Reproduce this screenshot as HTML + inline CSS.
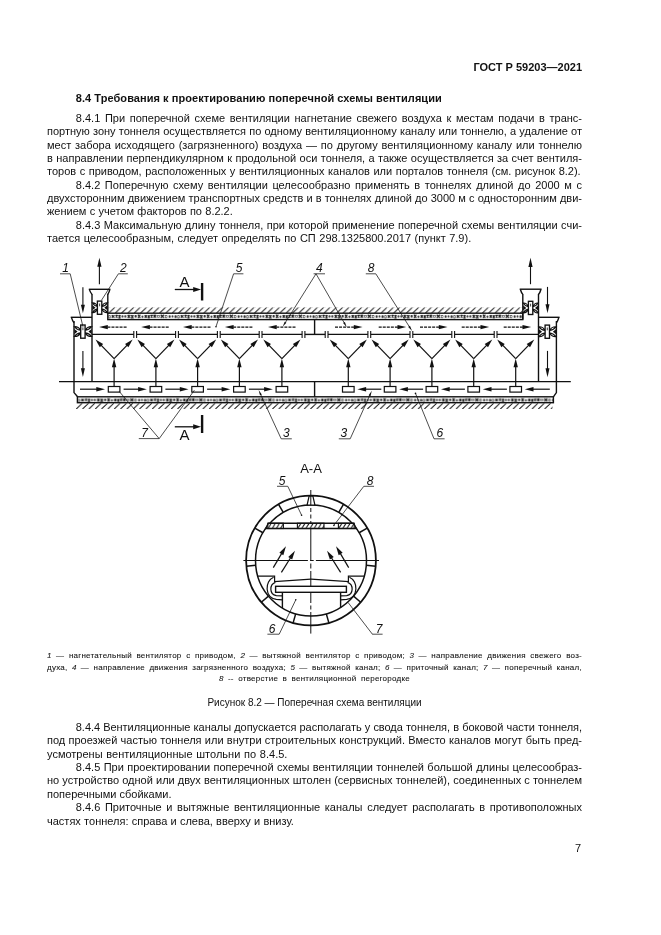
<!DOCTYPE html>
<html lang="ru"><head><meta charset="utf-8"><title>ГОСТ Р 59203—2021</title>
<style>
html,body{margin:0;padding:0;background:#fff;}
body{width:661px;height:935px;position:relative;overflow:hidden;font-family:"Liberation Sans",sans-serif;color:#111;}
.l{position:absolute;left:47px;width:535px;font-size:11px;line-height:13px;height:13px;white-space:nowrap;overflow:visible;}
.j{text-align:justify;text-align-last:justify;}
.i{left:75.8px;width:506.2px;}
.b{font-weight:bold;}
.lg{position:absolute;left:47px;width:535px;font-size:8px;line-height:10px;height:10px;letter-spacing:0.25px;color:#111;-webkit-text-stroke:0.08px #111;white-space:nowrap;}
.lg i{letter-spacing:0;}
svg{position:absolute;left:0;top:0;}
svg text{font-family:"Liberation Sans",sans-serif;fill:#111;}
#pg{position:absolute;left:0;top:0;width:661px;height:935px;will-change:transform;}
</style></head><body><div id="pg">
<div class="l b" style="top:60.60px;text-align:right;">ГОСТ Р 59203—2021</div>
<div class="l b i" style="top:91.90px;letter-spacing:0.055px;">8.4 Требования к проектированию поперечной схемы вентиляции</div>
<div class="l i j" style="top:111.90px;">8.4.1 При поперечной схеме вентиляции нагнетание свежего воздуха к местам подачи в транс-</div>
<div class="l j" style="top:125.26px;">портную зону тоннеля осуществляется по одному вентиляционному каналу или тоннелю, а удаление от</div>
<div class="l j" style="top:138.62px;">мест забора исходящего (загрязненного) воздуха — по другому вентиляционному каналу или тоннелю</div>
<div class="l j" style="top:151.98px;">в направлении перпендикулярном к продольной оси тоннеля, а также осуществляется за счет вентиля-</div>
<div class="l" style="top:165.34px;word-spacing:0.48px;">торов с приводом, расположенных у вентиляционных каналов или порталов тоннеля (см. рисунок 8.2).</div>
<div class="l i j" style="top:178.70px;">8.4.2 Поперечную схему вентиляции целесообразно применять в тоннелях длиной до 2000 м с</div>
<div class="l j" style="top:192.06px;">двухсторонним движением транспортных средств и в тоннелях длиной до 3000 м с односторонним дви-</div>
<div class="l" style="top:205.42px;word-spacing:0.25px;">жением с учетом факторов по 8.2.2.</div>
<div class="l i j" style="top:218.78px;">8.4.3 Максимальную длину тоннеля, при которой применение поперечной схемы вентиляции счи-</div>
<div class="l" style="top:232.14px;word-spacing:0.45px;">тается целесообразным, следует определять по СП 298.1325800.2017 (пункт 7.9).</div>
<div class="l i j" style="top:720.60px;letter-spacing:-0.045px;">8.4.4 Вентиляционные каналы допускается располагать у свода тоннеля, в боковой части тоннеля,</div>
<div class="l j" style="top:734.07px;">под проезжей частью тоннеля или внутри строительных конструкций. Вместо каналов могут быть пред-</div>
<div class="l" style="top:747.54px;word-spacing:0.7px;">усмотрены вентиляционные штольни по 8.4.5.</div>
<div class="l i j" style="top:761.01px;">8.4.5 При проектировании поперечной схемы вентиляции тоннелей большой длины целесообраз-</div>
<div class="l j" style="top:774.48px;">но устройство одной или двух вентиляционных штолен (сервисных тоннелей), соединенных с тоннелем</div>
<div class="l" style="top:787.95px;">поперечными сбойками.</div>
<div class="l i j" style="top:801.42px;">8.4.6 Приточные и вытяжные вентиляционные каналы следует располагать в противоположных</div>
<div class="l" style="top:814.89px;word-spacing:0.2px;">частях тоннеля: справа и слева, вверху и внизу.</div>
<div class="l" style="top:695.50px;font-size:10px;text-align:center;left:47px;width:535px;">Рисунок 8.2 — Поперечная схема вентиляции</div>
<div class="l" style="top:842.20px;text-align:right;width:534px;">7</div>
<div class="lg j" style="top:651.30px;text-align:justify;text-align-last:justify;"><i>1</i> — нагнетательный вентилятор с приводом, <i>2</i> — вытяжной вентилятор с приводом; <i>3</i> — направление движения свежего воз-</div>
<div class="lg j" style="top:662.60px;text-align:justify;text-align-last:justify;">духа, <i>4</i> — направление движения загрязненного воздуха; <i>5</i> — вытяжной канал; <i>6</i> — приточный канал; <i>7</i> — поперечный канал,</div>
<div class="lg" style="top:673.90px;text-align:center;word-spacing:2px;"><i>8</i> -- отверстие в вентиляционной перегородке</div>
<svg width="661" height="935" viewBox="0 0 661 935">
<defs>
<pattern id="hat" width="6.33" height="6" patternUnits="userSpaceOnUse"><path d="M0.3,6 L6.1,0.4 M-6.03,6 L-0.23,0.4 M6.63,6 L12.43,0.4" stroke="#1a1a1a" stroke-width="1.0"/></pattern>
<pattern id="con" width="69.0" height="6.4" patternUnits="userSpaceOnUse"><rect width="69.0" height="6.4" fill="#fff"/><g fill="#2a2a2a">
<rect x="0.40" y="2.07" width="2.31" height="2.86" rx="0.7"/>
<circle cx="1.56" cy="3.50" r="0.75" fill="#fff"/>
<path d="M3.92,1.97 L6.48,4.45 M3.92,4.45 L6.48,1.97" stroke="#1a1a1a" stroke-width="1.25" fill="none"/>
<path d="M7.85,1.61 L9.52,4.22 M7.85,4.22 L9.52,1.61" stroke="#1a1a1a" stroke-width="1.25" fill="none"/>
<path d="M10.84,1.88 L12.41,5.17 M10.84,5.17 L12.41,1.88" stroke="#1a1a1a" stroke-width="1.25" fill="none"/>
<rect x="13.68" y="2.06" width="1.78" height="2.32" rx="0.7"/>
<rect x="16.48" y="2.01" width="1.94" height="2.33" rx="0.7"/>
<path d="M19.82,1.73 L22.26,4.67 M19.82,4.67 L22.26,1.73" stroke="#1a1a1a" stroke-width="1.25" fill="none"/>
<path d="M23.43,1.90 L25.43,5.20 M23.43,5.20 L25.43,1.90" stroke="#1a1a1a" stroke-width="1.25" fill="none"/>
<rect x="26.76" y="1.79" width="2.07" height="2.53" rx="0.7"/>
<path d="M30.18,1.55 L32.40,4.69 M30.18,4.69 L32.40,1.55" stroke="#1a1a1a" stroke-width="1.25" fill="none"/>
<rect x="33.81" y="2.23" width="1.50" height="2.51" rx="0.7"/>
<path d="M36.80,2.10 L39.02,4.48 M36.80,4.48 L39.02,2.10" stroke="#1a1a1a" stroke-width="1.25" fill="none"/>
<path d="M40.08,2.21 L41.73,4.84 M40.08,4.84 L41.73,2.21" stroke="#1a1a1a" stroke-width="1.25" fill="none"/>
<path d="M42.71,1.69 L44.65,4.09 M42.71,4.09 L44.65,1.69" stroke="#1a1a1a" stroke-width="1.25" fill="none"/>
<path d="M45.66,1.61 L48.16,4.36 M45.66,4.36 L48.16,1.61" stroke="#1a1a1a" stroke-width="1.25" fill="none"/>
<rect x="49.14" y="1.94" width="2.66" height="2.42" rx="0.7"/>
<circle cx="50.47" cy="3.14" r="0.75" fill="#fff"/>
<path d="M52.86,1.51 L56.11,4.61 M52.86,4.61 L56.11,1.51" stroke="#1a1a1a" stroke-width="1.25" fill="none"/>
<rect x="57.14" y="1.72" width="2.21" height="3.15" rx="0.7"/>
<circle cx="58.24" cy="3.30" r="0.75" fill="#fff"/>
<rect x="60.84" y="2.11" width="1.88" height="2.56" rx="0.7"/>
<rect x="63.80" y="2.06" width="1.63" height="2.39" rx="0.7"/>
<rect x="66.69" y="2.14" width="2.01" height="2.75" rx="0.7"/>
</g></pattern>
</defs>
<g transform="translate(108.6,307.2)"><rect x="0" y="0" width="413.49999999999994" height="6" fill="url(#hat)"/></g>
<g transform="translate(107.8,313.2)"><rect x="0" y="0" width="414.99999999999994" height="6.400000000000034" fill="url(#con)" stroke="#111" stroke-width="1.4"/></g>
<g transform="translate(77.4,396.8)"><rect x="0" y="0" width="476.0" height="5.899999999999977" fill="url(#con)" stroke="#111" stroke-width="1.4"/></g>
<g transform="translate(76.0,403.0)"><rect x="0" y="0" width="476.5" height="6" fill="url(#hat)"/></g>
<line x1="59.00" y1="381.60" x2="570.80" y2="381.60" stroke="#111" stroke-width="1.3" />
<path d="M74.0,321 L74.0,392.6 L77.6,396.8" stroke="#111" stroke-width="1.4" fill="none" />
<path d="M92.0,294 L92.0,381.6" stroke="#111" stroke-width="1.4" fill="none" />
<path d="M107.8,294 L107.8,313.2" stroke="#111" stroke-width="1.4" fill="none" />
<path d="M88.8,289.3 L110.4,289.3" stroke="#111" stroke-width="1.4" fill="none" />
<path d="M89.4,289.6 Q90.3,292.4 92.0,294.4 M109.8,289.6 Q109.2,292.4 107.8,294.4" stroke="#111" stroke-width="1.4" fill="none" />
<path d="M70.7,317.3 L92.0,317.3" stroke="#111" stroke-width="1.4" fill="none" />
<path d="M71.5,317.6 Q72.4,320.6 74.0,322.8" stroke="#111" stroke-width="1.4" fill="none" />
<path d="M556.4,321 L556.4,392.6 L553.4,396.8" stroke="#111" stroke-width="1.4" fill="none" />
<path d="M538.5,294 L538.5,381.6" stroke="#111" stroke-width="1.4" fill="none" />
<path d="M522.8,294 L522.8,319.6" stroke="#111" stroke-width="1.4" fill="none" />
<path d="M519.7,289.2 L541.6,289.2" stroke="#111" stroke-width="1.4" fill="none" />
<path d="M520.4,289.5 Q521.2,292.4 522.8,294.4 M540.9,289.5 Q540.2,292.4 538.5,294.4" stroke="#111" stroke-width="1.4" fill="none" />
<path d="M538.5,317.3 L559.6,317.3" stroke="#111" stroke-width="1.4" fill="none" />
<path d="M558.8,317.6 Q558.0,320.6 556.4,322.8" stroke="#111" stroke-width="1.4" fill="none" />
<line x1="314.60" y1="319.60" x2="314.60" y2="334.40" stroke="#111" stroke-width="1.4" />
<line x1="314.60" y1="381.60" x2="314.60" y2="396.80" stroke="#111" stroke-width="1.4" />
<line x1="92.00" y1="334.40" x2="133.80" y2="334.40" stroke="#111" stroke-width="1.4" />
<line x1="136.60" y1="334.40" x2="175.60" y2="334.40" stroke="#111" stroke-width="1.4" />
<line x1="178.40" y1="334.40" x2="217.40" y2="334.40" stroke="#111" stroke-width="1.4" />
<line x1="220.20" y1="334.40" x2="259.20" y2="334.40" stroke="#111" stroke-width="1.4" />
<line x1="262.00" y1="334.40" x2="302.10" y2="334.40" stroke="#111" stroke-width="1.4" />
<line x1="304.90" y1="334.40" x2="325.20" y2="334.40" stroke="#111" stroke-width="1.4" />
<line x1="328.00" y1="334.40" x2="367.90" y2="334.40" stroke="#111" stroke-width="1.4" />
<line x1="370.70" y1="334.40" x2="410.00" y2="334.40" stroke="#111" stroke-width="1.4" />
<line x1="412.80" y1="334.40" x2="451.80" y2="334.40" stroke="#111" stroke-width="1.4" />
<line x1="454.60" y1="334.40" x2="494.20" y2="334.40" stroke="#111" stroke-width="1.4" />
<line x1="497.00" y1="334.40" x2="538.50" y2="334.40" stroke="#111" stroke-width="1.4" />
<line x1="133.80" y1="331.00" x2="133.80" y2="338.10" stroke="#111" stroke-width="1.1" />
<line x1="136.60" y1="331.00" x2="136.60" y2="338.10" stroke="#111" stroke-width="1.1" />
<line x1="175.60" y1="331.00" x2="175.60" y2="338.10" stroke="#111" stroke-width="1.1" />
<line x1="178.40" y1="331.00" x2="178.40" y2="338.10" stroke="#111" stroke-width="1.1" />
<line x1="217.40" y1="331.00" x2="217.40" y2="338.10" stroke="#111" stroke-width="1.1" />
<line x1="220.20" y1="331.00" x2="220.20" y2="338.10" stroke="#111" stroke-width="1.1" />
<line x1="259.20" y1="331.00" x2="259.20" y2="338.10" stroke="#111" stroke-width="1.1" />
<line x1="262.00" y1="331.00" x2="262.00" y2="338.10" stroke="#111" stroke-width="1.1" />
<line x1="302.10" y1="331.00" x2="302.10" y2="338.10" stroke="#111" stroke-width="1.1" />
<line x1="304.90" y1="331.00" x2="304.90" y2="338.10" stroke="#111" stroke-width="1.1" />
<line x1="325.20" y1="331.00" x2="325.20" y2="338.10" stroke="#111" stroke-width="1.1" />
<line x1="328.00" y1="331.00" x2="328.00" y2="338.10" stroke="#111" stroke-width="1.1" />
<line x1="367.90" y1="331.00" x2="367.90" y2="338.10" stroke="#111" stroke-width="1.1" />
<line x1="370.70" y1="331.00" x2="370.70" y2="338.10" stroke="#111" stroke-width="1.1" />
<line x1="410.00" y1="331.00" x2="410.00" y2="338.10" stroke="#111" stroke-width="1.1" />
<line x1="412.80" y1="331.00" x2="412.80" y2="338.10" stroke="#111" stroke-width="1.1" />
<line x1="451.80" y1="331.00" x2="451.80" y2="338.10" stroke="#111" stroke-width="1.1" />
<line x1="454.60" y1="331.00" x2="454.60" y2="338.10" stroke="#111" stroke-width="1.1" />
<line x1="494.20" y1="331.00" x2="494.20" y2="338.10" stroke="#111" stroke-width="1.1" />
<line x1="497.00" y1="331.00" x2="497.00" y2="338.10" stroke="#111" stroke-width="1.1" />
<g stroke="#111" stroke-width="1.15" fill="#fff">
<path d="M92.30,302.80 Q95.55,302.40 97.60,306.40 Q94.35,306.20 92.30,302.80 Z"/>
<path d="M92.30,312.60 Q95.55,313.00 97.60,309.00 Q94.35,309.20 92.30,312.60 Z"/>
<polygon points="92.30,305.10 95.50,307.70 92.30,310.30" fill="#111" stroke="none"/>
<path d="M107.50,302.80 Q103.95,302.40 101.60,306.40 Q105.15,306.20 107.50,302.80 Z"/>
<path d="M107.50,312.60 Q103.95,313.00 101.60,309.00 Q105.15,309.20 107.50,312.60 Z"/>
<polygon points="107.50,305.10 104.30,307.70 107.50,310.30" fill="#111" stroke="none"/>
<rect x="97.40" y="301.10" width="4.4" height="13.2" fill="#fff" stroke-width="1.35"/>
<line x1="99.6" y1="303.50" x2="99.6" y2="306.30" stroke-width="0.8"/>
</g>
<g stroke="#111" stroke-width="1.15" fill="#fff">
<path d="M74.30,326.70 Q78.20,326.30 80.90,330.30 Q77.00,330.10 74.30,326.70 Z"/>
<path d="M74.30,336.50 Q78.20,336.90 80.90,332.90 Q77.00,333.10 74.30,336.50 Z"/>
<polygon points="74.30,329.00 77.50,331.60 74.30,334.20" fill="#111" stroke="none"/>
<path d="M91.70,326.70 Q87.70,326.30 84.90,330.30 Q88.90,330.10 91.70,326.70 Z"/>
<path d="M91.70,336.50 Q87.70,336.90 84.90,332.90 Q88.90,333.10 91.70,336.50 Z"/>
<polygon points="91.70,329.00 88.50,331.60 91.70,334.20" fill="#111" stroke="none"/>
<rect x="80.70" y="325.00" width="4.4" height="13.2" fill="#fff" stroke-width="1.35"/>
<line x1="82.9" y1="327.40" x2="82.9" y2="330.20" stroke-width="0.8"/>
</g>
<g stroke="#111" stroke-width="1.15" fill="#fff">
<path d="M523.10,303.00 Q526.45,302.60 528.60,306.60 Q525.25,306.40 523.10,303.00 Z"/>
<path d="M523.10,312.80 Q526.45,313.20 528.60,309.20 Q525.25,309.40 523.10,312.80 Z"/>
<polygon points="523.10,305.30 526.30,307.90 523.10,310.50" fill="#111" stroke="none"/>
<path d="M538.20,303.00 Q534.80,302.60 532.60,306.60 Q536.00,306.40 538.20,303.00 Z"/>
<path d="M538.20,312.80 Q534.80,313.20 532.60,309.20 Q536.00,309.40 538.20,312.80 Z"/>
<polygon points="538.20,305.30 535.00,307.90 538.20,310.50" fill="#111" stroke="none"/>
<rect x="528.40" y="301.30" width="4.4" height="13.2" fill="#fff" stroke-width="1.35"/>
<line x1="530.6" y1="303.70" x2="530.6" y2="306.50" stroke-width="0.8"/>
</g>
<g stroke="#111" stroke-width="1.15" fill="#fff">
<path d="M538.80,326.80 Q542.65,326.40 545.30,330.40 Q541.45,330.20 538.80,326.80 Z"/>
<path d="M538.80,336.60 Q542.65,337.00 545.30,333.00 Q541.45,333.20 538.80,336.60 Z"/>
<polygon points="538.80,329.10 542.00,331.70 538.80,334.30" fill="#111" stroke="none"/>
<path d="M556.10,326.80 Q552.10,326.40 549.30,330.40 Q553.30,330.20 556.10,326.80 Z"/>
<path d="M556.10,336.60 Q552.10,337.00 549.30,333.00 Q553.30,333.20 556.10,336.60 Z"/>
<polygon points="556.10,329.10 552.90,331.70 556.10,334.30" fill="#111" stroke="none"/>
<rect x="545.10" y="325.10" width="4.4" height="13.2" fill="#fff" stroke-width="1.35"/>
<line x1="547.3" y1="327.50" x2="547.3" y2="330.30" stroke-width="0.8"/>
</g>
<line x1="99.40" y1="284.20" x2="99.40" y2="265.80" stroke="#111" stroke-width="1.1" />
<polygon points="99.40,257.70 101.50,266.80 97.30,266.80" fill="#111"/>
<line x1="82.90" y1="287.20" x2="82.90" y2="305.80" stroke="#111" stroke-width="1.1" />
<polygon points="82.90,313.30 80.90,304.80 84.90,304.80" fill="#111"/>
<line x1="82.90" y1="350.90" x2="82.90" y2="369.20" stroke="#111" stroke-width="1.1" />
<polygon points="82.90,377.10 80.90,368.20 84.90,368.20" fill="#111"/>
<line x1="530.50" y1="284.20" x2="530.50" y2="266.00" stroke="#111" stroke-width="1.1" />
<polygon points="530.50,257.70 532.60,267.00 528.40,267.00" fill="#111"/>
<line x1="547.50" y1="286.90" x2="547.50" y2="305.30" stroke="#111" stroke-width="1.1" />
<polygon points="547.50,313.20 545.50,304.30 549.50,304.30" fill="#111"/>
<line x1="547.50" y1="350.90" x2="547.50" y2="369.20" stroke="#111" stroke-width="1.1" />
<polygon points="547.50,377.30 545.50,368.20 549.50,368.20" fill="#111"/>
<rect x="108.30" y="386.5" width="11.6" height="5.6" fill="#fff" stroke="#111" stroke-width="1.2"/>
<line x1="114.10" y1="386.50" x2="114.10" y2="366.20" stroke="#111" stroke-width="1.2" />
<polygon points="114.10,358.50 116.30,367.20 111.90,367.20" fill="#111"/>
<line x1="114.10" y1="358.60" x2="100.77" y2="344.83" stroke="#111" stroke-width="1.25" />
<polygon points="95.55,339.44 103.12,343.95 99.81,347.15" fill="#111"/>
<line x1="114.10" y1="358.60" x2="127.43" y2="344.83" stroke="#111" stroke-width="1.25" />
<polygon points="132.65,339.44 128.39,347.15 125.08,343.95" fill="#111"/>
<rect x="150.10" y="386.5" width="11.6" height="5.6" fill="#fff" stroke="#111" stroke-width="1.2"/>
<line x1="155.90" y1="386.50" x2="155.90" y2="366.20" stroke="#111" stroke-width="1.2" />
<polygon points="155.90,358.50 158.10,367.20 153.70,367.20" fill="#111"/>
<line x1="155.90" y1="358.60" x2="142.57" y2="344.83" stroke="#111" stroke-width="1.25" />
<polygon points="137.35,339.44 144.92,343.95 141.61,347.15" fill="#111"/>
<line x1="155.90" y1="358.60" x2="169.23" y2="344.83" stroke="#111" stroke-width="1.25" />
<polygon points="174.45,339.44 170.19,347.15 166.88,343.95" fill="#111"/>
<rect x="191.80" y="386.5" width="11.6" height="5.6" fill="#fff" stroke="#111" stroke-width="1.2"/>
<line x1="197.60" y1="386.50" x2="197.60" y2="366.20" stroke="#111" stroke-width="1.2" />
<polygon points="197.60,358.50 199.80,367.20 195.40,367.20" fill="#111"/>
<line x1="197.60" y1="358.60" x2="184.27" y2="344.83" stroke="#111" stroke-width="1.25" />
<polygon points="179.05,339.44 186.62,343.95 183.31,347.15" fill="#111"/>
<line x1="197.60" y1="358.60" x2="210.93" y2="344.83" stroke="#111" stroke-width="1.25" />
<polygon points="216.15,339.44 211.89,347.15 208.58,343.95" fill="#111"/>
<rect x="233.60" y="386.5" width="11.6" height="5.6" fill="#fff" stroke="#111" stroke-width="1.2"/>
<line x1="239.40" y1="386.50" x2="239.40" y2="366.20" stroke="#111" stroke-width="1.2" />
<polygon points="239.40,358.50 241.60,367.20 237.20,367.20" fill="#111"/>
<line x1="239.40" y1="358.60" x2="226.07" y2="344.83" stroke="#111" stroke-width="1.25" />
<polygon points="220.85,339.44 228.42,343.95 225.11,347.15" fill="#111"/>
<line x1="239.40" y1="358.60" x2="252.73" y2="344.83" stroke="#111" stroke-width="1.25" />
<polygon points="257.95,339.44 253.69,347.15 250.38,343.95" fill="#111"/>
<rect x="276.10" y="386.5" width="11.6" height="5.6" fill="#fff" stroke="#111" stroke-width="1.2"/>
<line x1="281.90" y1="386.50" x2="281.90" y2="366.20" stroke="#111" stroke-width="1.2" />
<polygon points="281.90,358.50 284.10,367.20 279.70,367.20" fill="#111"/>
<line x1="281.90" y1="358.60" x2="268.57" y2="344.83" stroke="#111" stroke-width="1.25" />
<polygon points="263.35,339.44 270.92,343.95 267.61,347.15" fill="#111"/>
<line x1="281.90" y1="358.60" x2="295.23" y2="344.83" stroke="#111" stroke-width="1.25" />
<polygon points="300.45,339.44 296.19,347.15 292.88,343.95" fill="#111"/>
<rect x="342.50" y="386.5" width="11.6" height="5.6" fill="#fff" stroke="#111" stroke-width="1.2"/>
<line x1="348.30" y1="386.50" x2="348.30" y2="366.20" stroke="#111" stroke-width="1.2" />
<polygon points="348.30,358.50 350.50,367.20 346.10,367.20" fill="#111"/>
<line x1="348.30" y1="358.60" x2="334.97" y2="344.83" stroke="#111" stroke-width="1.25" />
<polygon points="329.75,339.44 337.32,343.95 334.01,347.15" fill="#111"/>
<line x1="348.30" y1="358.60" x2="361.63" y2="344.83" stroke="#111" stroke-width="1.25" />
<polygon points="366.85,339.44 362.59,347.15 359.28,343.95" fill="#111"/>
<rect x="384.30" y="386.5" width="11.6" height="5.6" fill="#fff" stroke="#111" stroke-width="1.2"/>
<line x1="390.10" y1="386.50" x2="390.10" y2="366.20" stroke="#111" stroke-width="1.2" />
<polygon points="390.10,358.50 392.30,367.20 387.90,367.20" fill="#111"/>
<line x1="390.10" y1="358.60" x2="376.77" y2="344.83" stroke="#111" stroke-width="1.25" />
<polygon points="371.55,339.44 379.12,343.95 375.81,347.15" fill="#111"/>
<line x1="390.10" y1="358.60" x2="403.43" y2="344.83" stroke="#111" stroke-width="1.25" />
<polygon points="408.65,339.44 404.39,347.15 401.08,343.95" fill="#111"/>
<rect x="426.10" y="386.5" width="11.6" height="5.6" fill="#fff" stroke="#111" stroke-width="1.2"/>
<line x1="431.90" y1="386.50" x2="431.90" y2="366.20" stroke="#111" stroke-width="1.2" />
<polygon points="431.90,358.50 434.10,367.20 429.70,367.20" fill="#111"/>
<line x1="431.90" y1="358.60" x2="418.57" y2="344.83" stroke="#111" stroke-width="1.25" />
<polygon points="413.35,339.44 420.92,343.95 417.61,347.15" fill="#111"/>
<line x1="431.90" y1="358.60" x2="445.23" y2="344.83" stroke="#111" stroke-width="1.25" />
<polygon points="450.45,339.44 446.19,347.15 442.88,343.95" fill="#111"/>
<rect x="467.90" y="386.5" width="11.6" height="5.6" fill="#fff" stroke="#111" stroke-width="1.2"/>
<line x1="473.70" y1="386.50" x2="473.70" y2="366.20" stroke="#111" stroke-width="1.2" />
<polygon points="473.70,358.50 475.90,367.20 471.50,367.20" fill="#111"/>
<line x1="473.70" y1="358.60" x2="460.37" y2="344.83" stroke="#111" stroke-width="1.25" />
<polygon points="455.15,339.44 462.72,343.95 459.41,347.15" fill="#111"/>
<line x1="473.70" y1="358.60" x2="487.03" y2="344.83" stroke="#111" stroke-width="1.25" />
<polygon points="492.25,339.44 487.99,347.15 484.68,343.95" fill="#111"/>
<rect x="509.90" y="386.5" width="11.6" height="5.6" fill="#fff" stroke="#111" stroke-width="1.2"/>
<line x1="515.70" y1="386.50" x2="515.70" y2="366.20" stroke="#111" stroke-width="1.2" />
<polygon points="515.70,358.50 517.90,367.20 513.50,367.20" fill="#111"/>
<line x1="515.70" y1="358.60" x2="502.37" y2="344.83" stroke="#111" stroke-width="1.25" />
<polygon points="497.15,339.44 504.72,343.95 501.41,347.15" fill="#111"/>
<line x1="515.70" y1="358.60" x2="529.03" y2="344.83" stroke="#111" stroke-width="1.25" />
<polygon points="534.25,339.44 529.99,347.15 526.68,343.95" fill="#111"/>
<line x1="80.00" y1="389.20" x2="97.30" y2="389.20" stroke="#111" stroke-width="1.2" />
<polygon points="105.00,389.20 96.30,391.40 96.30,387.00" fill="#111"/>
<line x1="123.60" y1="389.20" x2="139.10" y2="389.20" stroke="#111" stroke-width="1.2" />
<polygon points="146.80,389.20 138.10,391.40 138.10,387.00" fill="#111"/>
<line x1="165.40" y1="389.20" x2="180.80" y2="389.20" stroke="#111" stroke-width="1.2" />
<polygon points="188.50,389.20 179.80,391.40 179.80,387.00" fill="#111"/>
<line x1="207.10" y1="389.20" x2="222.60" y2="389.20" stroke="#111" stroke-width="1.2" />
<polygon points="230.30,389.20 221.60,391.40 221.60,387.00" fill="#111"/>
<line x1="248.90" y1="389.20" x2="265.10" y2="389.20" stroke="#111" stroke-width="1.2" />
<polygon points="272.80,389.20 264.10,391.40 264.10,387.00" fill="#111"/>
<line x1="381.30" y1="389.20" x2="365.10" y2="389.20" stroke="#111" stroke-width="1.2" />
<polygon points="357.40,389.20 366.10,387.00 366.10,391.40" fill="#111"/>
<line x1="423.10" y1="389.20" x2="406.90" y2="389.20" stroke="#111" stroke-width="1.2" />
<polygon points="399.20,389.20 407.90,387.00 407.90,391.40" fill="#111"/>
<line x1="464.90" y1="389.20" x2="448.70" y2="389.20" stroke="#111" stroke-width="1.2" />
<polygon points="441.00,389.20 449.70,387.00 449.70,391.40" fill="#111"/>
<line x1="506.90" y1="389.20" x2="490.50" y2="389.20" stroke="#111" stroke-width="1.2" />
<polygon points="482.80,389.20 491.50,387.00 491.50,391.40" fill="#111"/>
<line x1="549.80" y1="389.20" x2="532.50" y2="389.20" stroke="#111" stroke-width="1.2" />
<polygon points="524.80,389.20 533.50,387.00 533.50,391.40" fill="#111"/>
<line x1="126.60" y1="327.10" x2="106.80" y2="327.10" stroke="#111" stroke-width="1.25" stroke-dasharray="3.0,1.05"/>
<polygon points="99.10,327.10 107.80,324.90 107.80,329.30" fill="#111"/>
<line x1="168.70" y1="327.10" x2="148.90" y2="327.10" stroke="#111" stroke-width="1.25" stroke-dasharray="3.0,1.05"/>
<polygon points="141.20,327.10 149.90,324.90 149.90,329.30" fill="#111"/>
<line x1="210.50" y1="327.10" x2="190.70" y2="327.10" stroke="#111" stroke-width="1.25" stroke-dasharray="3.0,1.05"/>
<polygon points="183.00,327.10 191.70,324.90 191.70,329.30" fill="#111"/>
<line x1="252.40" y1="327.10" x2="232.60" y2="327.10" stroke="#111" stroke-width="1.25" stroke-dasharray="3.0,1.05"/>
<polygon points="224.90,327.10 233.60,324.90 233.60,329.30" fill="#111"/>
<line x1="295.50" y1="327.10" x2="275.70" y2="327.10" stroke="#111" stroke-width="1.25" stroke-dasharray="3.0,1.05"/>
<polygon points="268.00,327.10 276.70,324.90 276.70,329.30" fill="#111"/>
<line x1="335.00" y1="327.10" x2="354.80" y2="327.10" stroke="#111" stroke-width="1.25" stroke-dasharray="3.0,1.05"/>
<polygon points="362.50,327.10 353.80,329.30 353.80,324.90" fill="#111"/>
<line x1="378.70" y1="327.10" x2="398.50" y2="327.10" stroke="#111" stroke-width="1.25" stroke-dasharray="3.0,1.05"/>
<polygon points="406.20,327.10 397.50,329.30 397.50,324.90" fill="#111"/>
<line x1="420.00" y1="327.10" x2="439.80" y2="327.10" stroke="#111" stroke-width="1.25" stroke-dasharray="3.0,1.05"/>
<polygon points="447.50,327.10 438.80,329.30 438.80,324.90" fill="#111"/>
<line x1="461.70" y1="327.10" x2="481.50" y2="327.10" stroke="#111" stroke-width="1.25" stroke-dasharray="3.0,1.05"/>
<polygon points="489.20,327.10 480.50,329.30 480.50,324.90" fill="#111"/>
<line x1="503.70" y1="327.10" x2="523.50" y2="327.10" stroke="#111" stroke-width="1.25" stroke-dasharray="3.0,1.05"/>
<polygon points="531.20,327.10 522.50,329.30 522.50,324.90" fill="#111"/>
<line x1="174.80" y1="289.50" x2="194.20" y2="289.50" stroke="#111" stroke-width="1.3" />
<polygon points="201.10,289.50 193.20,292.00 193.20,287.00" fill="#111"/>
<line x1="202.10" y1="283.00" x2="202.10" y2="300.50" stroke="#111" stroke-width="2.4" />
<text x="184.5" y="286.7" font-size="15" text-anchor="middle">А</text>

<line x1="174.80" y1="426.80" x2="194.20" y2="426.80" stroke="#111" stroke-width="1.3" />
<polygon points="201.10,426.80 193.20,429.30 193.20,424.30" fill="#111"/>
<line x1="202.10" y1="415.00" x2="202.10" y2="433.00" stroke="#111" stroke-width="2.4" />
<text x="184.5" y="439.8" font-size="15" text-anchor="middle">А</text>
<text x="65.50" y="272.00" font-size="12" font-style="italic" text-anchor="middle">1</text>
<line x1="60.00" y1="273.80" x2="70.20" y2="273.80" stroke="#111" stroke-width="0.75" />
<line x1="70.20" y1="273.80" x2="83.00" y2="326.80" stroke="#111" stroke-width="0.75" />
<text x="123.30" y="272.00" font-size="12" font-style="italic" text-anchor="middle">2</text>
<line x1="118.40" y1="273.80" x2="127.80" y2="273.80" stroke="#111" stroke-width="0.75" />
<line x1="118.40" y1="273.80" x2="101.40" y2="300.40" stroke="#111" stroke-width="0.75" />
<text x="239.20" y="272.00" font-size="12" font-style="italic" text-anchor="middle">5</text>
<line x1="233.60" y1="273.80" x2="243.40" y2="273.80" stroke="#111" stroke-width="0.75" />
<line x1="233.60" y1="273.80" x2="216.10" y2="326.40" stroke="#111" stroke-width="0.75" />
<circle cx="216.0" cy="326.8" r="0.8" fill="#111"/>
<text x="319.40" y="272.00" font-size="12" font-style="italic" text-anchor="middle">4</text>
<line x1="313.60" y1="273.80" x2="325.00" y2="273.80" stroke="#111" stroke-width="0.75" />
<line x1="316.00" y1="273.80" x2="285.03" y2="323.01" stroke="#111" stroke-width="0.75" />
<polygon points="282.63,326.82 284.72,321.64 286.41,322.70" fill="#111"/>
<line x1="316.00" y1="273.80" x2="344.50" y2="323.33" stroke="#111" stroke-width="0.75" />
<polygon points="346.75,327.23 343.14,322.97 344.87,321.97" fill="#111"/>
<text x="371.00" y="272.00" font-size="12" font-style="italic" text-anchor="middle">8</text>
<line x1="365.80" y1="273.80" x2="375.80" y2="273.80" stroke="#111" stroke-width="0.75" />
<line x1="375.80" y1="273.80" x2="409.66" y2="327.22" stroke="#111" stroke-width="0.75" />
<polygon points="412.07,331.02 408.28,326.91 409.97,325.84" fill="#111"/>
<text x="144.60" y="437.00" font-size="12" font-style="italic" text-anchor="middle">7</text>
<line x1="138.80" y1="438.60" x2="159.20" y2="438.60" stroke="#111" stroke-width="0.75" />
<line x1="159.20" y1="438.60" x2="119.20" y2="391.40" stroke="#111" stroke-width="0.75" />
<line x1="159.20" y1="438.60" x2="194.40" y2="390.20" stroke="#111" stroke-width="0.75" />
<text x="286.40" y="437.00" font-size="12" font-style="italic" text-anchor="middle">3</text>
<line x1="281.20" y1="438.80" x2="291.80" y2="438.80" stroke="#111" stroke-width="0.75" />
<line x1="281.20" y1="438.80" x2="260.48" y2="394.03" stroke="#111" stroke-width="0.75" />
<polygon points="258.59,389.95 261.81,394.52 259.99,395.36" fill="#111"/>
<text x="343.80" y="437.00" font-size="12" font-style="italic" text-anchor="middle">3</text>
<line x1="338.80" y1="438.80" x2="350.20" y2="438.80" stroke="#111" stroke-width="0.75" />
<line x1="350.20" y1="438.80" x2="369.96" y2="394.85" stroke="#111" stroke-width="0.75" />
<polygon points="371.81,390.74 370.46,396.17 368.64,395.35" fill="#111"/>
<text x="439.80" y="437.00" font-size="12" font-style="italic" text-anchor="middle">6</text>
<line x1="434.00" y1="438.80" x2="444.60" y2="438.80" stroke="#111" stroke-width="0.75" />
<line x1="434.00" y1="438.80" x2="415.60" y2="393.60" stroke="#111" stroke-width="0.75" />
<circle cx="415.5" cy="393.4" r="0.8" fill="#111"/>
<text x="311.0" y="473.0" font-size="13" text-anchor="middle">А-А</text>
<circle cx="311.0" cy="560.5" r="64.9" fill="none" stroke="#111" stroke-width="1.8"/>
<circle cx="311.0" cy="560.5" r="55.5" fill="none" stroke="#111" stroke-width="1.5"/>
<line x1="338.75" y1="512.44" x2="343.45" y2="504.29" stroke="#111" stroke-width="1.5" />
<line x1="283.25" y1="512.44" x2="278.55" y2="504.29" stroke="#111" stroke-width="1.5" />
<line x1="359.06" y1="532.75" x2="367.21" y2="528.05" stroke="#111" stroke-width="1.5" />
<line x1="262.94" y1="532.75" x2="254.79" y2="528.05" stroke="#111" stroke-width="1.5" />
<line x1="366.29" y1="565.34" x2="375.65" y2="566.16" stroke="#111" stroke-width="1.5" />
<line x1="255.71" y1="565.34" x2="246.35" y2="566.16" stroke="#111" stroke-width="1.5" />
<line x1="353.52" y1="596.17" x2="360.72" y2="602.22" stroke="#111" stroke-width="1.5" />
<line x1="268.48" y1="596.17" x2="261.28" y2="602.22" stroke="#111" stroke-width="1.5" />
<line x1="326.30" y1="613.85" x2="328.89" y2="622.89" stroke="#111" stroke-width="1.5" />
<line x1="295.70" y1="613.85" x2="293.11" y2="622.89" stroke="#111" stroke-width="1.5" />
<polygon points="309.1,496.20000000000005 312.9,496.20000000000005 314.9,505.0 307.1,505.0" fill="#fff" stroke="#111" stroke-width="1.2"/>
<line x1="310.80" y1="490.00" x2="310.80" y2="633.60" stroke="#111" stroke-width="1.0" stroke-dasharray="15.5,2.5,4,2.5,4,2.5,40,2.5,5,2.5,32,2.5,4,2.5,30"/>
<line x1="243.40" y1="560.50" x2="379.00" y2="560.50" stroke="#111" stroke-width="1.0" stroke-dasharray="64.5,2.2,3.6,2.2,70"/>
<pattern id="h2" width="4.1" height="5.3" patternUnits="userSpaceOnUse"><path d="M0.3,5.3 L3.6,0 M-3.8,5.3 L-0.5,0 M4.4,5.3 L7.7,0" stroke="#111" stroke-width="1.05"/></pattern>
<polygon points="268.40,523.2 353.60,523.2 356.35,528.5 265.65,528.5" fill="#fff" stroke="#111" stroke-width="1.4"/>
<g transform="translate(267.80,523.2)"><rect x="0" y="0" width="15.60" height="5.2999999999999545" fill="url(#h2)" stroke="#111" stroke-width="1.1"/></g>
<g transform="translate(297.40,523.2)"><rect x="0" y="0" width="26.60" height="5.2999999999999545" fill="url(#h2)" stroke="#111" stroke-width="1.1"/></g>
<g transform="translate(338.40,523.2)"><rect x="0" y="0" width="15.80" height="5.2999999999999545" fill="url(#h2)" stroke="#111" stroke-width="1.1"/></g>
<line x1="273.30" y1="567.60" x2="281.87" y2="553.15" stroke="#111" stroke-width="1.2" />
<polygon points="285.96,546.27 283.34,555.18 279.38,552.84" fill="#111"/>
<line x1="281.40" y1="572.40" x2="290.73" y2="557.46" stroke="#111" stroke-width="1.2" />
<polygon points="294.96,550.68 292.15,559.53 288.25,557.09" fill="#111"/>
<line x1="348.70" y1="567.60" x2="340.13" y2="553.15" stroke="#111" stroke-width="1.2" />
<polygon points="336.04,546.27 342.62,552.84 338.66,555.18" fill="#111"/>
<line x1="340.60" y1="572.40" x2="331.27" y2="557.46" stroke="#111" stroke-width="1.2" />
<polygon points="327.04,550.68 333.75,557.09 329.85,559.53" fill="#111"/>
<path d="M257.77,576.2 L274.60,576.2 L274.60,581.6 L311.0,579.2" stroke="#111" stroke-width="1.2" fill="none" />
<path d="M273.60,577.2 C264.50,581 264.50,597.5 276.30,599.4 L282.40,599.8" stroke="#111" stroke-width="1.2" fill="none" />
<path d="M275.40,582.4 C269.20,584.5 269.20,594.5 276.30,595.7 L282.40,595.9" stroke="#111" stroke-width="1.2" fill="none" />
<line x1="282.40" y1="592.30" x2="282.40" y2="608.06" stroke="#111" stroke-width="1.4" />
<path d="M364.23,576.2 L348.40,576.2 L348.40,581.6 L311.0,579.2" stroke="#111" stroke-width="1.2" fill="none" />
<path d="M349.40,577.2 C358.50,581 358.50,597.5 346.70,599.4 L340.60,599.8" stroke="#111" stroke-width="1.2" fill="none" />
<path d="M347.60,582.4 C353.80,584.5 353.80,594.5 346.70,595.7 L340.60,595.9" stroke="#111" stroke-width="1.2" fill="none" />
<line x1="340.60" y1="592.30" x2="340.60" y2="608.06" stroke="#111" stroke-width="1.4" />
<rect x="275.6" y="586.3" width="70.79999999999995" height="6.0" fill="#fff" stroke="#111" stroke-width="1.4"/>
<text x="282.20" y="484.60" font-size="12" font-style="italic" text-anchor="middle">5</text>
<line x1="277.00" y1="486.30" x2="287.80" y2="486.30" stroke="#111" stroke-width="0.75" />
<line x1="287.80" y1="486.30" x2="301.50" y2="515.00" stroke="#111" stroke-width="0.75" />
<circle cx="301.6" cy="515.2" r="0.8" fill="#111"/>
<text x="370.00" y="484.60" font-size="12" font-style="italic" text-anchor="middle">8</text>
<line x1="363.80" y1="486.30" x2="374.00" y2="486.30" stroke="#111" stroke-width="0.75" />
<line x1="363.80" y1="486.30" x2="334.00" y2="525.20" stroke="#111" stroke-width="0.75" />
<circle cx="333.9" cy="525.4" r="0.8" fill="#111"/>
<text x="272.20" y="632.50" font-size="12" font-style="italic" text-anchor="middle">6</text>
<line x1="267.40" y1="634.20" x2="279.20" y2="634.20" stroke="#111" stroke-width="0.75" />
<line x1="279.20" y1="634.20" x2="295.70" y2="600.00" stroke="#111" stroke-width="0.75" />
<circle cx="295.8" cy="599.8" r="0.8" fill="#111"/>
<text x="379.00" y="632.50" font-size="12" font-style="italic" text-anchor="middle">7</text>
<line x1="372.20" y1="634.20" x2="382.60" y2="634.20" stroke="#111" stroke-width="0.75" />
<line x1="372.40" y1="634.20" x2="348.00" y2="602.40" stroke="#111" stroke-width="0.75" />
</svg>
</div></body></html>
